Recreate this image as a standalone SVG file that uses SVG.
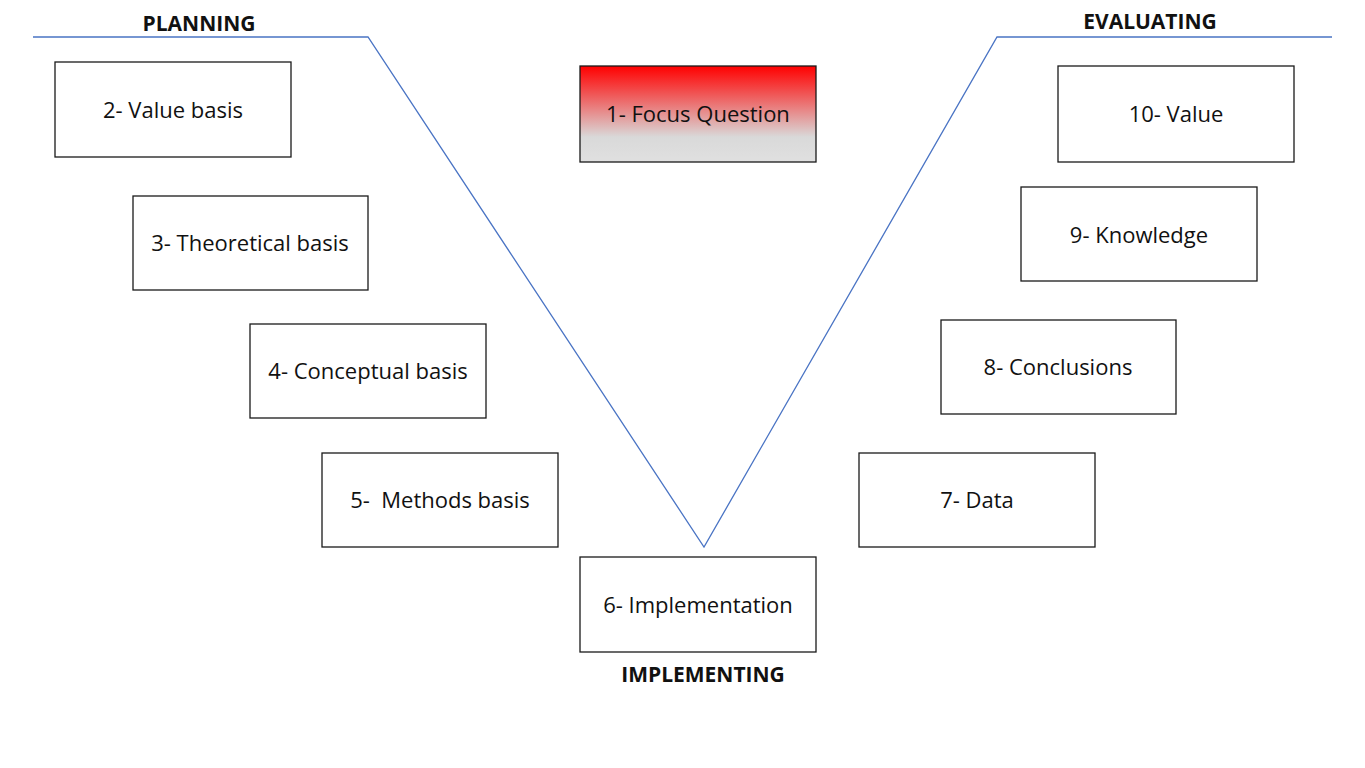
<svg xmlns="http://www.w3.org/2000/svg" width="1365" height="768" viewBox="0 0 1365 768">
<style>
.box{fill:#fff;stroke:#1a1a1a;stroke-width:1.3}
.t{font-family:"Open Sans","Liberation Sans",sans-serif;font-size:22px;fill:#111;text-anchor:middle;white-space:pre}
.h{font-family:"Open Sans","Liberation Sans",sans-serif;font-size:21px;font-weight:bold;fill:#111;text-anchor:middle}
.v{fill:none;stroke:#4a74c4;stroke-width:1.3}
</style>
<defs>
<linearGradient id="g" x1="0" y1="0" x2="0" y2="1">
<stop offset="0" stop-color="#ff0000"/>
<stop offset="0.74" stop-color="#d9d9d9"/>
<stop offset="1" stop-color="#e0e0e0"/>
</linearGradient>
</defs>
<rect width="1365" height="768" fill="#fff"/>
<g id="connectors">
<polyline class="v" points="33,37 368,37 704,547 997,37 1332,37"/>
</g>
<g id="labels">
<text class="h" x="199" y="31">PLANNING</text>
<text class="h" x="1150" y="29">EVALUATING</text>
<text class="h" x="703" y="682">IMPLEMENTING</text>
</g>
<g id="n1"><rect x="580" y="66" width="236" height="96" fill="url(#g)" stroke="#1a1a1a" stroke-width="1.3"/><text class="t" x="698" y="122">1- Focus Question</text></g>
<g id="n2"><rect class="box" x="55" y="62" width="236" height="95"/><text class="t" x="173" y="118">2- Value basis</text></g>
<g id="n3"><rect class="box" x="133" y="196" width="235" height="94"/><text class="t" x="250" y="251">3- Theoretical basis</text></g>
<g id="n4"><rect class="box" x="250" y="324" width="236" height="94"/><text class="t" x="368" y="379">4- Conceptual basis</text></g>
<g id="n5"><rect class="box" x="322" y="453" width="236" height="94"/><text class="t" x="440" y="508" xml:space="preserve">5-  Methods basis</text></g>
<g id="n6"><rect class="box" x="580" y="557" width="236" height="95"/><text class="t" x="698" y="613">6- Implementation</text></g>
<g id="n7"><rect class="box" x="859" y="453" width="236" height="94"/><text class="t" x="977" y="508">7- Data</text></g>
<g id="n8"><rect class="box" x="941" y="320" width="235" height="94"/><text class="t" x="1058" y="375">8- Conclusions</text></g>
<g id="n9"><rect class="box" x="1021" y="187" width="236" height="94"/><text class="t" x="1139" y="243">9- Knowledge</text></g>
<g id="n10"><rect class="box" x="1058" y="66" width="236" height="96"/><text class="t" x="1176" y="122">10- Value</text></g>
</svg>
